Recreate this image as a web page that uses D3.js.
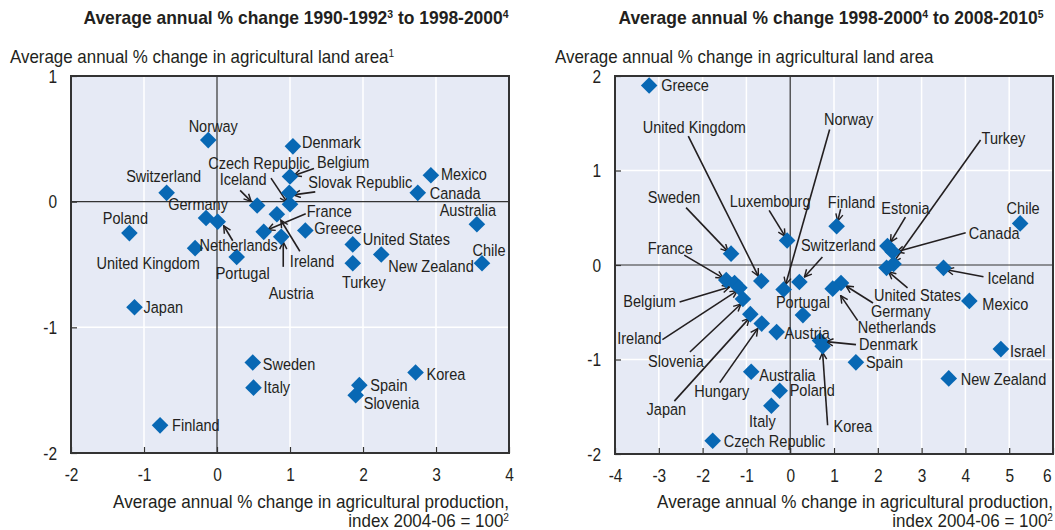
<!DOCTYPE html>
<html><head><meta charset="utf-8">
<script src="https://cdn.jsdelivr.net/npm/d3@7"></script>
<style>
body{margin:0;background:#fff}
svg text{font-family:'Liberation Sans',Arial,sans-serif;fill:#231f20}
</style></head><body>
<svg id="c" width="1055" height="530"></svg>
<script>
// ---------------- DATA ----------------
const leftCountries = ["Norway","Switzerland","Poland","United Kingdom","Germany","Netherlands","Iceland","Portugal","France","Ireland","Austria","Czech Republic","Belgium","Slovak Republic","Denmark","Greece","United States","Turkey","New Zealand","Mexico","Canada","Australia","Chile","Japan","Sweden","Italy","Finland","Korea","Spain","Slovenia"];
const leftProduction = [-0.12,-0.69,-1.20,-0.30,-0.15,0.01,0.55,0.27,0.64,0.82,0.88,1.00,1.00,0.99,1.04,1.21,1.86,1.86,2.25,2.93,2.75,3.56,3.63,-1.13,0.49,0.50,-0.78,2.72,1.95,1.90];
const leftLand = [0.49,0.07,-0.25,-0.37,-0.13,-0.16,-0.03,-0.44,-0.24,-0.10,-0.28,-0.02,0.20,0.07,0.44,-0.23,-0.34,-0.49,-0.42,0.21,0.07,-0.18,-0.49,-0.84,-1.28,-1.48,-1.78,-1.36,-1.46,-1.54];

const rightCountries = ["Greece","United Kingdom","Sweden","France","Luxembourg","Norway","Finland","Estonia","Canada","Turkey","Chile","Switzerland","Portugal","Iceland","United States","Mexico","Germany","Netherlands","Denmark","Korea","Spain","New Zealand","Israel","Austria","Australia","Poland","Italy","Czech Republic","Belgium","Ireland","Slovenia","Hungary","Japan"];
const rightProduction = [-3.22,-0.66,-1.35,-1.46,-0.07,-0.15,1.06,2.22,2.34,2.36,5.25,0.21,0.29,3.50,2.20,4.09,1.16,0.97,0.68,0.74,1.50,3.62,4.81,-0.31,-0.89,-0.24,-0.43,-1.77,-1.27,-1.16,-1.08,-0.65,-0.91];
const rightLand = [1.90,-0.17,0.12,-0.16,0.26,-0.26,0.41,0.20,0.14,0.01,0.44,-0.18,-0.53,-0.03,-0.03,-0.38,-0.19,-0.25,-0.80,-0.86,-1.03,-1.20,-0.89,-0.71,-1.13,-1.33,-1.49,-1.86,-0.19,-0.24,-0.36,-0.62,-0.52];

const leftXTicks = [-2,-1,0,1,2,3,4];
const leftYTicks = [-2,-1,0,1];
const rightXTicks = [-4,-3,-2,-1,0,1,2,3,4,5,6];
const rightYTicks = [-2,-1,0,1,2];

// ---------------- LAYOUT (label offsets in px relative to the marker) ----------------
// [dx, dy, anchor, arrowStartDx, arrowStartDy, arrowEndDx, arrowEndDy]
const leftLabels = {
  "Norway":[5,-14,"middle"],
  "Switzerland":[-3,-17,"middle"],
  "Poland":[-4,-15,"middle"],
  "United Kingdom":[-47,15,"middle"],
  "Germany":[-8,-14,"middle"],
  "Netherlands":[21,23,"middle",15,19,6,4],
  "Iceland":[-14,-26,"middle",-17,-15,-6,-4],
  "Portugal":[6,16,"middle"],
  "France":[43,-21,"start",42,-18,4,-2],
  "Ireland":[13,47,"start",23,37,4,6],
  "Austria":[10,56,"middle",2,30,2,5],
  "Czech Republic":[-31,-41,"middle",-19,-26,-3,-2],
  "Belgium":[27,-14,"start",24,-8,4,-1],
  "Slovak Republic":[19,-11,"start",26,-1,4,2],
  "Denmark":[9,-4,"start"],
  "Greece":[9,-2,"start"],
  "United States":[10,-5,"start"],
  "Turkey":[11,19,"middle"],
  "New Zealand":[7,12,"start"],
  "Mexico":[10,-1,"start"],
  "Canada":[12,0,"start"],
  "Australia":[-9,-14,"middle"],
  "Chile":[7,-13,"middle"],
  "Japan":[9,0,"start"],
  "Sweden":[10,2,"start"],
  "Italy":[10,0,"start"],
  "Finland":[12,0,"start"],
  "Korea":[11,2,"start"],
  "Spain":[11,0,"start"],
  "Slovenia":[8,8,"start"]
};
const rightLabels = {
  "Greece":[12,0,"start"],
  "United Kingdom":[-67,-154,"middle",-73,-145,-3,-5],
  "Sweden":[-57,-56,"middle",-45,-46,-3,-2],
  "France":[-56,-32,"middle",-42,-25,-3,-2],
  "Luxembourg":[-17,-39,"middle",-18,-30,-2,-4],
  "Norway":[65,-170,"middle",46,-160,2,-5],
  "Finland":[15,-24,"middle",4,-17,1,-5],
  "Estonia":[18,-38,"middle",18,-29,3,-4],
  "Canada":[76,-19,"start",73,-19,4,0],
  "Turkey":[88,-126,"start",87,-124,0,-2],
  "Chile":[3,-15,"middle"],
  "Switzerland":[39,-37,"middle",23,-25,5,-5],
  "Portugal":[0,-13,"middle"],
  "Iceland":[44,10,"start",40,9,3,2],
  "United States":[31,27,"middle",21,20,2,4],
  "Mexico":[13,3,"start"],
  "Germany":[30,28,"start",32,20,5,3],
  "Netherlands":[25,39,"start",25,32,8,7],
  "Denmark":[39,4,"start",36,4,6,1],
  "Korea":[11,80,"start",5,79,0,6],
  "Spain":[10,0,"start"],
  "New Zealand":[12,1,"start"],
  "Israel":[9,2,"start"],
  "Austria":[8,1,"start"],
  "Australia":[8,3,"start"],
  "Poland":[10,0,"start"],
  "Italy":[-9,15,"middle"],
  "Czech Republic":[11,0,"start"],
  "Belgium":[-85,18,"middle",-55,19,-5,4],
  "Ireland":[-100,51,"middle",-77,52,-2,3],
  "Slovenia":[-67,62,"middle",-53,53,-2,5],
  "Hungary":[-40,68,"middle",-42,59,-4,5],
  "Japan":[-84,95,"middle",-76,87,-1,4]
};

const SX = 0.86; // horizontal condensation to mimic a condensed face
const svg = d3.select("#c");
const defs = svg.append("defs");
defs.append("marker").attr("id","arr").attr("viewBox","0 0 10 10")
  .attr("refX",9).attr("refY",5).attr("markerWidth",9).attr("markerHeight",9)
  .attr("markerUnits","userSpaceOnUse").attr("orient","auto")
  .append("path").attr("d","M1,1 L9,5 L1,9").attr("fill","none").attr("stroke","#231f20").attr("stroke-width",1.6);

const BG = "#e6eaf5", DARK = "#333333", BLUE = "#0868b4";

function txt(parent, x, y, size, anchor, weight, sx){
  return parent.append("text").attr("transform",`translate(${x},${y}) scale(${sx||SX},1)`)
    .attr("font-size",size).attr("text-anchor",anchor||"start").attr("font-weight",weight||"normal");
}

function panel(cfg){
  const g = svg.append("g");
  const x = d3.scaleLinear().domain(cfg.xDomain).range([cfg.x0, cfg.x1]);
  const y = d3.scaleLinear().domain(cfg.yDomain).range([cfg.y1, cfg.y0]);
  g.append("rect").attr("x",cfg.x0).attr("y",cfg.y0).attr("width",cfg.x1-cfg.x0).attr("height",cfg.y1-cfg.y0).attr("fill",BG);
  g.selectAll(".gx").data(cfg.xTicks.filter(t=>t!==0)).join("line")
    .attr("x1",d=>x(d)).attr("x2",d=>x(d)).attr("y1",cfg.y0).attr("y2",cfg.y1).attr("stroke","#fff").attr("stroke-width",1.5);
  g.selectAll(".gy").data(cfg.yTicks.filter(t=>t!==0)).join("line")
    .attr("y1",d=>y(d)).attr("y2",d=>y(d)).attr("x1",cfg.x0).attr("x2",cfg.x1).attr("stroke","#fff").attr("stroke-width",1.5);
  g.append("line").attr("x1",x(0)).attr("x2",x(0)).attr("y1",cfg.y0).attr("y2",cfg.y1).attr("stroke",DARK).attr("stroke-width",1.2);
  g.append("line").attr("y1",y(0)).attr("y2",y(0)).attr("x1",cfg.x0).attr("x2",cfg.x1).attr("stroke",DARK).attr("stroke-width",1.2);
  const fmt = d=>d<0?"-"+Math.abs(d):String(d);
  const xa = g.append("g").attr("transform",`translate(0,${cfg.y1})`)
    .call(d3.axisBottom(x).tickValues(cfg.xTicks).tickSizeInner(-6).tickSizeOuter(0).tickPadding(15).tickFormat(fmt));
  const ya = g.append("g").attr("transform",`translate(${cfg.x0},0)`)
    .call(d3.axisLeft(y).tickValues(cfg.yTicks).tickSizeInner(-6).tickSizeOuter(0).tickPadding(14).tickFormat(fmt));
  [xa,ya].forEach(a=>{a.select(".domain").remove();a.selectAll("line").attr("stroke",DARK).attr("stroke-width",1.2);
    a.selectAll("text").attr("font-size",18).attr("fill","#231f20").style("font-family","'Liberation Sans',Arial,sans-serif");});
  xa.selectAll("text").attr("transform",`scale(${SX},1)`);
  // keep the last x tick label inside the canvas
  xa.selectAll("text").filter(d=>x(d)+6>1055).attr("text-anchor","end").attr("transform",`translate(-2,0) scale(${SX},1)`);
  ya.selectAll("text").attr("x",null).attr("dy","0.35em").attr("transform",`translate(-14,0) scale(${SX},1)`);
  g.append("rect").attr("x",cfg.x0).attr("y",cfg.y0).attr("width",cfg.x1-cfg.x0).attr("height",cfg.y1-cfg.y0)
    .attr("fill","none").attr("stroke",DARK).attr("stroke-width",2);
  const pts = cfg.names.map((n,i)=>({name:n,px:x(cfg.xs[i]),py:y(cfg.ys[i]),lay:cfg.labels[n]}));
  g.selectAll(".arrow").data(pts.filter(p=>p.lay && p.lay.length>3)).join("line")
    .attr("x1",p=>p.px+p.lay[3]).attr("y1",p=>p.py+p.lay[4])
    .attr("x2",p=>p.px+p.lay[5]).attr("y2",p=>p.py+p.lay[6])
    .attr("stroke","#231f20").attr("stroke-width",1.6).attr("marker-end","url(#arr)");
  const r = 8.3;
  g.selectAll(".pt").data(pts).join("path")
    .attr("d",p=>`M${p.px},${p.py-r}L${p.px+r},${p.py}L${p.px},${p.py+r}L${p.px-r},${p.py}Z`)
    .attr("fill",BLUE);
  pts.forEach(p=>{
    txt(g, p.px+p.lay[0], p.py+p.lay[1], 16.5, p.lay[2], null, 0.88).attr("dy","0.35em").text(p.name);
  });
}

panel({x0:71,x1:509,y0:76,y1:453,xDomain:[-2,4],yDomain:[-2,1],xTicks:leftXTicks,yTicks:leftYTicks,
  names:leftCountries,xs:leftProduction,ys:leftLand,labels:leftLabels});
panel({x0:615,x1:1053,y0:76,y1:454,xDomain:[-4,6],yDomain:[-2,2],xTicks:rightXTicks,yTicks:rightYTicks,
  names:rightCountries,xs:rightProduction,ys:rightLand,labels:rightLabels});

function withSup(t, parts){
  parts.forEach(p=>{
    if(p.sup){ t.append("tspan").attr("font-size","0.6em").attr("dy","-0.55em").text(p.t); }
    else { t.append("tspan").attr("dy",p.after?"0.33em":0).text(p.t); }
  });
}
withSup(txt(svg,296,24,18,"middle","bold",0.97),[{t:"Average annual % change 1990-1992"},{t:"3",sup:true},{t:" to 1998-2000",after:true},{t:"4",sup:true}]);
withSup(txt(svg,831,24,18,"middle","bold",0.97),[{t:"Average annual % change 1998-2000"},{t:"4",sup:true},{t:" to 2008-2010",after:true},{t:"5",sup:true}]);

withSup(txt(svg,10,63,18,"start",null,0.94),[{t:"Average annual % change in agricultural land area"},{t:"1",sup:true}]);
txt(svg,555,63,18,"start",null,0.94).text("Average annual % change in agricultural land area");

function xTitle(xr){
  txt(svg,xr,508,18,"end",null,0.95).text("Average annual % change in agricultural production,");
  withSup(txt(svg,xr,527,17.5,"end",null,0.97),[{t:"index 2004-06 = 100"},{t:"2",sup:true}]);
}
xTitle(509); xTitle(1053);
</script>
</body></html>
